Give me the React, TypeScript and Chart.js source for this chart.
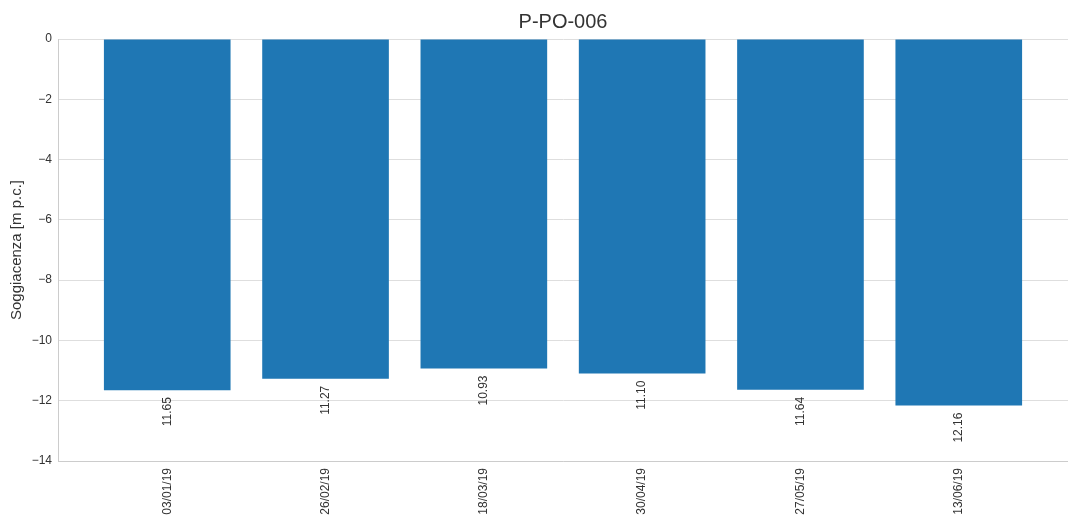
import React, { useEffect, useRef } from "react";
import { Chart, registerables } from "chart.js";

Chart.register(...registerables);

const titleText = "P-PO-006";
const yAxisTitle = "Soggiacenza [m p.c.]";
const dates = ["03/01/19", "26/02/19", "18/03/19", "30/04/19", "27/05/19", "13/06/19"];
const depths = [11.65, 11.27, 10.93, 11.1, 11.64, 12.16];
const yTicks = [0, -2, -4, -6, -8, -10, -12, -14];

const FONT = "'Liberation Sans', Arial, sans-serif";
const TEXT = "#333333";
const GRID = "#dedede";

export default function App() {
  const ref = useRef<HTMLCanvasElement | null>(null);

  useEffect(() => {
    if (!ref.current) return;
    const barLabels = {
      id: "barLabels",
      afterDatasetsDraw(chart: any) {
        const ctx = chart.ctx;
        const meta = chart.getDatasetMeta(0);
        meta.data.forEach((bar: any, i: number) => {
          ctx.save();
          ctx.translate(bar.x, bar.y + 7);
          ctx.rotate(-Math.PI / 2);
          ctx.textAlign = "right";
          ctx.textBaseline = "middle";
          ctx.fillStyle = TEXT;
          ctx.font = `12px ${FONT}`;
          ctx.fillText(depths[i].toFixed(2), 0, 0);
          ctx.restore();
        });
      },
    };

    const chart = new Chart(ref.current, {
      type: "bar",
      data: {
        datasets: [
          {
            data: depths.map((d, i) => ({ x: i, y: -d })),
            backgroundColor: "#1f77b4",
            borderWidth: 0,
            barPercentage: 0.8,
            categoryPercentage: 1,
          },
        ],
      },
      options: {
        responsive: false,
        animation: false,
        devicePixelRatio: 1,
        layout: { padding: 0 },
        plugins: {
          legend: { display: false },
          tooltip: { enabled: false },
          title: {
            display: true,
            text: titleText,
            fullSize: false,
            color: TEXT,
            font: { family: FONT, size: 20, weight: "normal" },
            padding: { top: 10, bottom: 5 },
          },
        },
        scales: {
          x: {
            type: "linear",
            min: -0.69,
            max: 5.69,
            offset: false,
            afterBuildTicks(scale: any) {
              scale.ticks = dates.map((_, i) => ({ value: i }));
            },
            afterFit(scale: any) {
              scale.height = 56;
            },
            grid: { display: false, drawTicks: false },
            border: { display: true, color: "#cccccc", width: 1 },
            ticks: {
              autoSkip: false,
              minRotation: 90,
              maxRotation: 90,
              padding: 7,
              color: TEXT,
              font: { family: FONT, size: 12 },
              callback: (v: any) => dates[Math.round(Number(v))] ?? "",
            },
          },
          y: {
            min: -14,
            max: 0,
            afterBuildTicks(scale: any) {
              scale.ticks = yTicks.map((v) => ({ value: v }));
            },
            afterFit(scale: any) {
              scale.width = 58;
            },
            grid: { color: GRID, drawTicks: false, lineWidth: 1 },
            border: { display: true, color: "#cccccc", width: 1 },
            title: {
              display: true,
              text: yAxisTitle,
              color: TEXT,
              font: { family: FONT, size: 15 },
              padding: { top: 8, bottom: 4 },
            },
            ticks: {
              padding: 6,
              color: TEXT,
              font: { family: FONT, size: 12 },
              callback: (v: any) => {
                const n = Number(v);
                return n < 0 ? "\u2212" + Math.abs(n) : String(n);
              },
            },
          },
        },
      },
      plugins: [barLabels],
    });
    return () => chart.destroy();
  }, []);

  return (
    <div style={{ position: "fixed", left: 0, top: 0, width: 1068, height: 517, background: "#fff" }}>
      <canvas ref={ref} width={1068} height={517} />
    </div>
  );
}
